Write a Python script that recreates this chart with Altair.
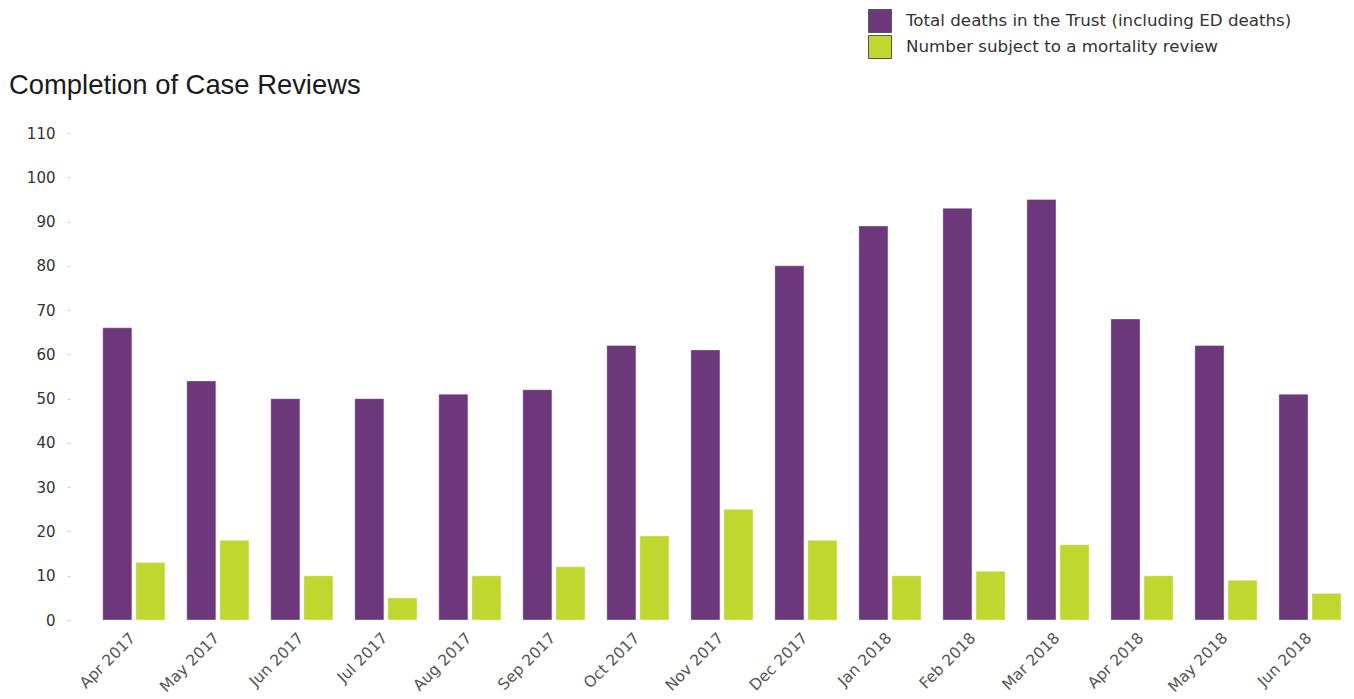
import altair as alt
import pandas as pd

months = ["Apr 2017", "May 2017", "Jun 2017", "Jul 2017", "Aug 2017", "Sep 2017",
          "Oct 2017", "Nov 2017", "Dec 2017", "Jan 2018", "Feb 2018", "Mar 2018",
          "Apr 2018", "May 2018", "Jun 2018"]
total_deaths = [66, 54, 50, 50, 51, 52, 62, 61, 80, 89, 93, 95, 68, 62, 51]
reviewed = [13, 18, 10, 5, 10, 12, 19, 25, 18, 10, 11, 17, 10, 9, 6]
series = ["Total deaths in the Trust (including ED deaths)",
          "Number subject to a mortality review"]
colors = ["#6c377b", "#c0d730"]

rows = []
for m, t, r in zip(months, total_deaths, reviewed):
    rows.append({"month": m, "series": series[0], "value": t})
    rows.append({"month": m, "series": series[1], "value": r})
df = pd.DataFrame(rows)

chart = alt.Chart(df).mark_bar(stroke="#ffffff", strokeWidth=0.6, strokeOpacity=0.6).encode(
    x=alt.X("month:N", sort=months, title=None,
            scale=alt.Scale(paddingInner=0.26, paddingOuter=0.26, align=0.75),
            axis=alt.Axis(labelAngle=-45, labelFont="DejaVu Sans", labelFontSize=15.5,
                          labelColor="#555555", ticks=False, domain=False,
                          labelPadding=10, labelLimit=200, labelOffset=-6)),
    xOffset=alt.XOffset("series:N", sort=series,
                        scale=alt.Scale(paddingInner=0.12, paddingOuter=0)),
    y=alt.Y("value:Q", title=None,
            scale=alt.Scale(domain=[0, 110], nice=False),
            axis=alt.Axis(values=list(range(0, 111, 10)), grid=False, domain=False,
                          tickSize=3, tickColor="#cccccc", labelPadding=12,
                          labelFont="DejaVu Sans", labelFontSize=15,
                          labelColor="#333333")),
    color=alt.Color("series:N", sort=series,
                    scale=alt.Scale(domain=series, range=colors),
                    legend=alt.Legend(title=None, orient="none", legendX=798, legendY=-124,
                                      symbolType="square", symbolSize=529,
                                      symbolStrokeColor="#555555", symbolStrokeWidth=1,
                                      labelFont="DejaVu Sans", labelFontSize=16.7,
                                      labelColor="#333333", rowPadding=-8,
                                      labelOffset=14, labelLimit=600)),
).properties(
    width=1282,
    height=487,
    title=alt.TitleParams("Completion of Case Reviews", anchor="start", frame="group",
                          dx=-61, dy=90, offset=0, font="Liberation Sans", fontSize=27.4,
                          fontWeight="normal", color="#1a1a1a"),
    autosize=alt.AutoSizeParams(type="none"),
    padding={"left": 70, "top": 133, "right": 2, "bottom": 79},
).configure_view(stroke=None)

chart.save("out.html", embed_options={"renderer": "svg", "actions": False})
